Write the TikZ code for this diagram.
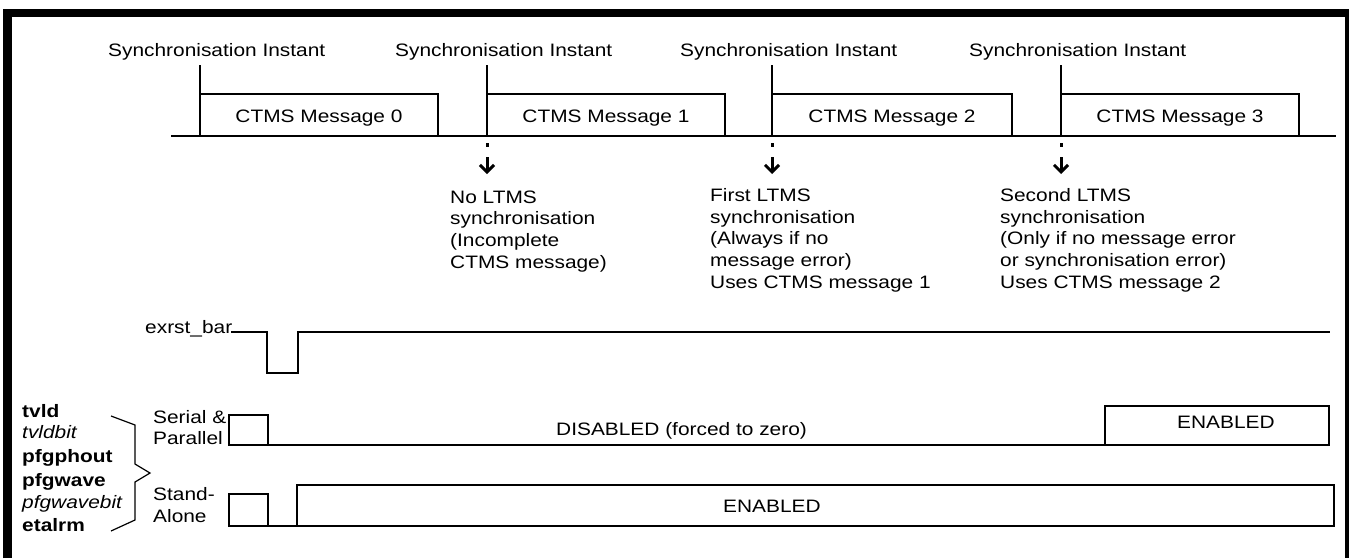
\documentclass[tikz,border=0pt]{standalone}
\usepackage{fontspec}
\setmainfont{Liberation Sans}[FakeStretch=1.16]
\usetikzlibrary{arrows.meta,positioning}

\begin{document}
\begin{tikzpicture}[x=1pt, y=-1pt, font=\fontsize{18}{21.6}\selectfont, sig/.style={line width=2.5pt}, lbl/.style={inner sep=0pt, anchor=base west, align=left}, msgtxt/.style={inner sep=0pt, anchor=base}, arr/.style={line width=3pt, dash pattern=on 4pt off 10pt on 30pt off 1pt, -{Straight Barb[length=7pt, width=14pt, line width=3pt]}}]
\useasboundingbox (0,0) rectangle (1349,558);
% frame, open at the bottom
\draw[line width=8.5pt] (7.5,558) -- (7.5,13) -- (1349,13) -- (1349,558);

% CTMS messages and synchronisation instants
\draw[sig] (171,136) -- (1336,136);
\foreach \i/\xs/\xe in {0/200/438, 1/487/725, 2/772/1012, 3/1061/1299} {
  \coordinate (s\i) at (\xs,65);
  \coordinate (b\i) at (\xs,136);
  \coordinate (t\i) at (\xs,174);
  \node[lbl] (sync\i) at (\xs-92,56) {Synchronisation Instant};
  \draw[sig] (s\i) -- (b\i);
  \draw[sig] (\xs,94) -- (\xe,94) -- (\xe,136);
  \node[msgtxt] (msg\i) at ({(\xs+\xe)/2},122) {CTMS Message \i};
}

% LTMS synchronisation (base = last line)
\node[lbl] (ltms1) at (450,268) {No LTMS\\synchronisation\\(Incomplete\\CTMS message)};
\node[lbl] (ltms2) at (710,288) {First LTMS\\synchronisation\\(Always if no\\message error)\\Uses CTMS message 1};
\node[lbl] (ltms3) at (1000,288) {Second LTMS\\synchronisation\\(Only if no message error\\or synchronisation error)\\Uses CTMS message 2};
\foreach \i in {1,2,3}
  \draw[arr] ([yshift=-7pt]b\i) -- (t\i);

% reset
\node[lbl] (rst) at (145,333) {exrst\_bar};
\draw[sig] (231,332) -- (267,332) -- (267,373) -- (298,373) -- (298,332) -- (1330,332);

% outputs
\node[lbl] (sp1) at (153,423) {Serial \&};
\node[lbl] (sp2) at (153,444) {Parallel};
\draw[sig] (229,415) rectangle (268,445);
\draw[sig] (235,445) -- (1105,445);
\draw[sig] (1105,406) rectangle (1329,445);
\node[lbl] (dis) at (556,435) {DISABLED (forced to zero)};
\node[lbl] (en1) at (1177,428) {ENABLED};

\node[lbl] (sa1) at (153,500) {Stand-};
\node[lbl] (sa2) at (153,522) {Alone};
\draw[sig] (229,494) rectangle (268,526);
\draw[sig] (240,526) -- (297,526);
\draw[sig] (297,485) rectangle (1334,526);
\node[lbl] (en2) at (723,512) {ENABLED};

% signal names
\node[lbl] (n1) at (22,417) {\textbf{tvld}};
\node[lbl] (n2) at (22,438) {\textit{tvldbit}};
\node[lbl] (n3) at (22,462) {\textbf{pfgphout}};
\node[lbl] (n4) at (22,486) {\textbf{pfgwave}};
\node[lbl] (n5) at (22,508) {\textit{pfgwavebit}};
\node[lbl] (n6) at (22,531) {\textbf{etalrm}};
\draw[line width=1.2pt] (111,416) -- (135,425) -- (135,464) -- (150,473) -- (135,482) -- (135,520) -- (111,531);
\end{tikzpicture}
\end{document}
